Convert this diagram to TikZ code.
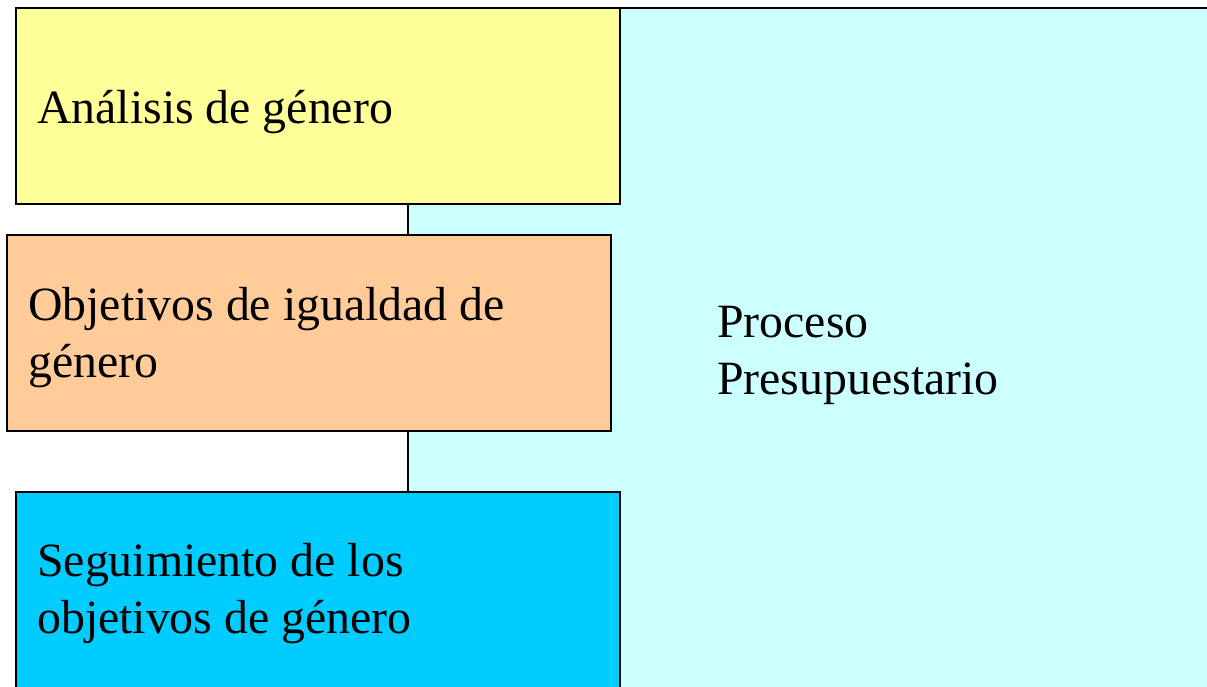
\documentclass[tikz,border=0pt]{standalone}
\usepackage{fontspec}
\setmainfont{Liberation Serif}
\definecolor{procfill}{HTML}{CCFFFF}
\definecolor{yelfill}{HTML}{FFFF99}
\definecolor{orafill}{HTML}{FFCC99}
\definecolor{blufill}{HTML}{00CCFF}
\tikzset{
  boxline/.style={draw=black, line width=2.2pt},
  lbl/.style={anchor=base west, inner sep=0pt, font=\fontsize{47.8}{56.5}\selectfont, align=left},
}
\begin{document}
\begin{tikzpicture}[x=1pt,y=-1pt]
\useasboundingbox (0,0) rectangle (1207,686);
\clip (0,0) rectangle (1207,686);
\fill[white] (0,0) rectangle (1207,686);
\draw[boxline, fill=procfill] (408,8) rectangle (1240,720);
\draw[boxline, fill=yelfill] (16,8) rectangle (620,204);
\draw[boxline, fill=orafill] (7,235) rectangle (611,431);
\draw[boxline, fill=blufill] (16,492) rectangle (620,720);
\node[lbl] (ana) at (37,123) {Análisis de género};
\node[lbl] (obj) at (28,377) {Objetivos de igualdad de\\género};
\node[lbl] (seg) at (37,633) {Seguimiento de los\\objetivos de género};
\node[lbl] (proc) at (717,394) {Proceso\\Presupuestario};
\end{tikzpicture}
\end{document}
